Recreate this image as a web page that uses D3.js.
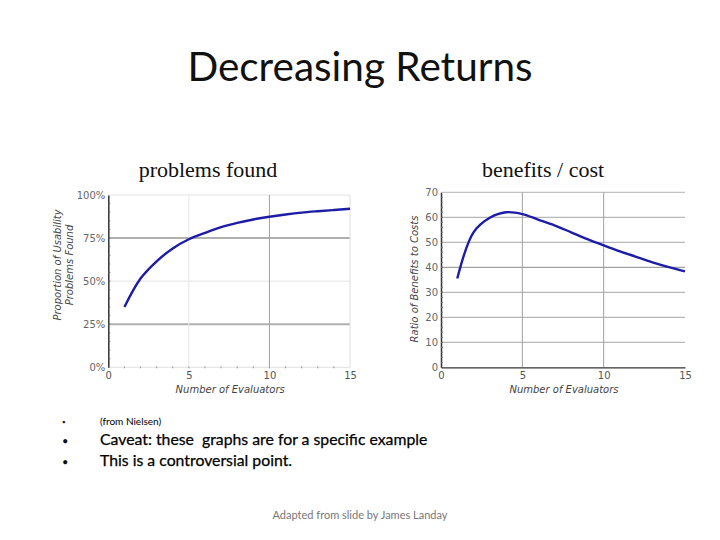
<!DOCTYPE html>
<html><head><meta charset="utf-8">
<script src="https://cdn.jsdelivr.net/npm/d3@7"></script>
<style>body{margin:0;background:#fff}svg{display:block}text{white-space:pre}</style>
</head><body>
<svg id="c" width="720" height="540"></svg>
<script>
// Data
const evaluators = [1,2,3,4,5,6,7,8,9,10,11,12,13,14,15];
const problemsFound = [35,51.5,61.5,69,74.3,78,81.3,83.8,85.8,87.4,88.7,89.8,90.6,91.3,92];
const benefitCost = [35.5,54,59.8,62,61.3,59,56.7,54,51.3,48.8,46.4,44.2,42,40.1,38.4];
const xTicks = [0,5,10,15];
const leftYTicks = [0,25,50,75,100];
const rightYTicks = [0,10,20,30,40,50,60,70];
const bullets = [
  {text:"(from Nielsen)", small:true},
  {text:"Caveat: these  graphs are for a specific example", small:false},
  {text:"This is a controversial point.", small:false}
];

const svg = d3.select("#c");
const axisFont = "Verdana, 'DejaVu Sans', sans-serif";
const lineColor = "#1c1ca8";

svg.append("text").attr("x",360).attr("y",81).attr("text-anchor","middle")
  .attr("font-family","Lato, Carlito, sans-serif").attr("font-size",40.5).attr("fill","#111")
  .text("Decreasing Returns");
svg.append("text").attr("x",208).attr("y",177).attr("text-anchor","middle")
  .attr("font-family","'Liberation Serif', 'Times New Roman', serif").attr("font-size",22).attr("fill","#111")
  .text("problems found");
svg.append("text").attr("x",543).attr("y",177).attr("text-anchor","middle")
  .attr("font-family","'Liberation Serif', 'Times New Roman', serif").attr("font-size",22).attr("fill","#111")
  .text("benefits / cost");

// ---------- Left chart ----------
const L = {x0:108.3, x1:350, y0:367.3, y1:195};
const xL = d3.scaleLinear().domain([0,15]).range([L.x0,L.x1]);
const yL = d3.scaleLinear().domain([0,100]).range([L.y0,L.y1]);
const gl = svg.append("g");
const leftGridStyle = {25:["#b0b0b0",2],50:["#e3e3e3",1],75:["#b0b0b0",2],100:["#e3e3e3",1]};
leftYTicks.forEach(t=>{
  if(t===0) return;
  gl.append("line").attr("x1",L.x0).attr("x2",L.x1).attr("y1",yL(t)).attr("y2",yL(t))
    .attr("stroke",leftGridStyle[t][0]).attr("stroke-width",leftGridStyle[t][1]);
});
const leftVStyle = {5:["#e6e6e6",1],10:["#a0a0a0",1],15:["#dedede",1]};
xTicks.forEach(t=>{
  if(t===0) return;
  gl.append("line").attr("x1",xL(t)).attr("x2",xL(t)).attr("y1",L.y0).attr("y2",L.y1)
    .attr("stroke",leftVStyle[t][0]).attr("stroke-width",leftVStyle[t][1]);
});
gl.append("line").attr("x1",L.x0).attr("x2",L.x1).attr("y1",L.y0).attr("y2",L.y0).attr("stroke","#e0e0e0");
gl.selectAll(".mx").data(d3.range(1,15)).join("line")
  .attr("x1",d=>xL(d)).attr("x2",d=>xL(d)).attr("y1",L.y0-1).attr("y2",L.y0+1).attr("stroke","#999");
const axL = d3.axisLeft(yL).tickValues(leftYTicks).tickFormat(d=>d+"%").tickSize(0).tickPadding(3);
const gAxL = gl.append("g").attr("transform",`translate(${L.x0},0)`).call(axL);
gAxL.select(".domain").attr("stroke","#333").attr("stroke-width",1.5);
gAxL.selectAll("text").attr("font-family",axisFont).attr("font-size",10).attr("fill","#666");
gl.selectAll(".my").data(d3.range(5,100,5)).join("line")
  .attr("x1",L.x0).attr("x2",L.x0+2).attr("y1",d=>yL(d)).attr("y2",d=>yL(d)).attr("stroke","#666");
const axLx = d3.axisBottom(xL).tickValues(xTicks).tickSize(0).tickPadding(5);
const gAxLx = gl.append("g").attr("transform",`translate(0,${L.y0})`).call(axLx);
gAxLx.select(".domain").remove();
gAxLx.selectAll("text").attr("font-family",axisFont).attr("font-size",10).attr("fill","#555");
gl.append("text").attr("x",(L.x0+L.x1)/2+1).attr("y",393).attr("text-anchor","middle")
  .attr("font-family",axisFont).attr("font-size",10).attr("font-style","italic").attr("fill","#444")
  .text("Number of Evaluators");
const ytL = gl.append("text").attr("transform","translate(61,265) rotate(-90)").attr("text-anchor","middle")
  .attr("font-family",axisFont).attr("font-size",10).attr("font-style","italic").attr("fill","#444");
ytL.append("tspan").attr("x",0).attr("dy",0).text("Proportion of Usability");
ytL.append("tspan").attr("x",0).attr("dy",12).text("Problems Found");
const lineL = d3.line().x((d,i)=>xL(evaluators[i])).y(d=>yL(d)).curve(d3.curveCatmullRom);
gl.append("path").attr("d",lineL(problemsFound)).attr("fill","none").attr("stroke",lineColor).attr("stroke-width",2.4);

// ---------- Right chart ----------
const R = {x0:441, x1:685, y0:367.3, y1:192.3};
const xR = d3.scaleLinear().domain([0,15]).range([R.x0,R.x1]);
const yR = d3.scaleLinear().domain([0,70]).range([R.y0,R.y1]);
const gr = svg.append("g");
rightYTicks.forEach(t=>{
  if(t===0) return;
  gr.append("line").attr("x1",R.x0).attr("x2",R.x1).attr("y1",yR(t)).attr("y2",yR(t))
    .attr("stroke",t===40?"#8a8a8a":(t===70?"#b5b5b5":"#a5a5a5")).attr("stroke-width",1);
});
xTicks.forEach(t=>{
  if(t===0 || t===15) return;
  gr.append("line").attr("x1",xR(t)).attr("x2",xR(t)).attr("y1",R.y0).attr("y2",R.y1)
    .attr("stroke","#a0a0a0").attr("stroke-width",1);
});
const axR = d3.axisLeft(yR).tickValues(rightYTicks).tickSize(0).tickPadding(3);
const gAxR = gr.append("g").attr("transform",`translate(${R.x0},0)`).call(axR);
gAxR.select(".domain").attr("stroke","#333").attr("stroke-width",1.5);
gAxR.selectAll("text").attr("font-family",axisFont).attr("font-size",10).attr("fill","#666");
gr.selectAll(".my").data(d3.range(2,70,2)).join("line")
  .attr("x1",R.x0).attr("x2",R.x0+2).attr("y1",d=>yR(d)).attr("y2",d=>yR(d)).attr("stroke","#777");
const axRx = d3.axisBottom(xR).tickValues(xTicks).tickSize(0).tickPadding(5);
const gAxRx = gr.append("g").attr("transform",`translate(0,${R.y0})`).call(axRx);
gAxRx.select(".domain").attr("stroke","#333").attr("stroke-width",1.2);
gAxRx.selectAll("text").attr("font-family",axisFont).attr("font-size",10).attr("fill","#555");
gr.append("text").attr("x",(R.x0+R.x1)/2+1).attr("y",393).attr("text-anchor","middle")
  .attr("font-family",axisFont).attr("font-size",10).attr("font-style","italic").attr("fill","#444")
  .text("Number of Evaluators");
gr.append("text").attr("transform","translate(418,279) rotate(-90)").attr("text-anchor","middle")
  .attr("font-family",axisFont).attr("font-size",10).attr("font-style","italic").attr("fill","#444")
  .text("Ratio of Benefits to Costs");
const lineR = d3.line().x((d,i)=>xR(evaluators[i])).y(d=>yR(d)).curve(d3.curveCatmullRom);
gr.append("path").attr("d",lineR(benefitCost)).attr("fill","none").attr("stroke",lineColor).attr("stroke-width",2.4);

// ---------- Bullets ----------
const by = [425, 445, 466];
bullets.forEach((b,i)=>{
  svg.append("text").attr("x",62).attr("y",by[i]).attr("font-family","Lato, sans-serif")
    .attr("font-size",b.small?8:11).attr("fill","#111").text(b.small?"\u25AA":"\u2022");
  svg.append("text").attr("x",100).attr("y",by[i]).attr("font-family","Lato, Carlito, sans-serif")
    .attr("font-size",b.small?10:15.8).attr("fill","#000")
    .attr("stroke",b.small?"none":"#000").attr("stroke-width",0.25)
    .text(b.text);
});
svg.append("text").attr("x",360).attr("y",519).attr("text-anchor","middle")
  .attr("font-family","Lato, Carlito, sans-serif").attr("font-size",11).attr("fill","#777")
  .text("Adapted from slide by James Landay");
</script>
</body></html>
